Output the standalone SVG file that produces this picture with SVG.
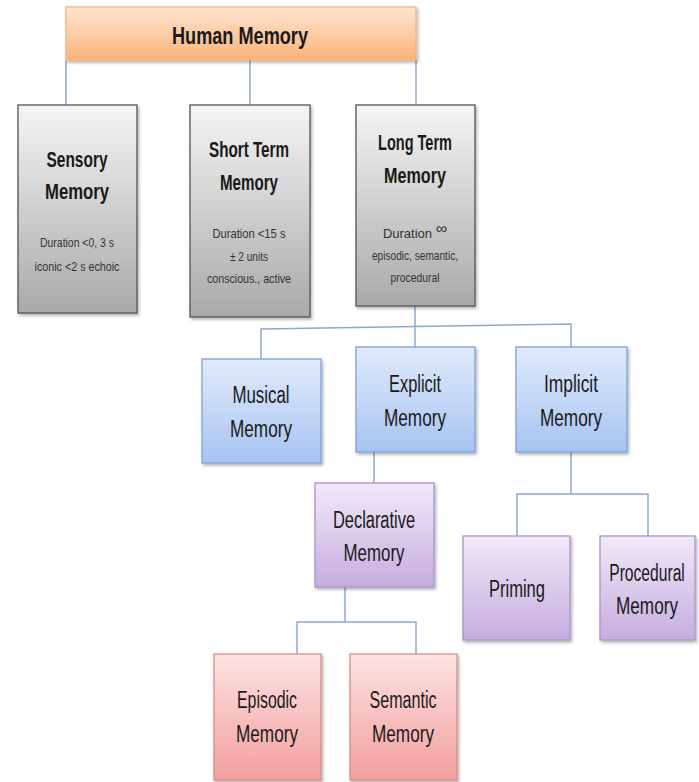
<svg xmlns="http://www.w3.org/2000/svg" width="699" height="782" viewBox="0 0 699 782">
<style>
text{font-family:"Liberation Sans",Arial,sans-serif;fill:#1a1a1a;text-anchor:middle}
.t{font-size:22px;font-weight:bold}
.h{font-size:24px;font-weight:bold}
.s{font-size:13px;fill:#333}
.r{font-size:23px}
.c{fill:none;stroke:#8ea9cf;stroke-width:1.5}
.box{stroke-width:1.3}
.o{fill:url(#go);stroke:#f5b47c}
.g{fill:url(#gg);stroke:#555}
.b{fill:url(#gb);stroke:#7ea2d6}
.p{fill:url(#gp);stroke:#a993cf}
.rd{fill:url(#gr);stroke:#d98c8c}
</style>
<defs>
<linearGradient id="go" x1="0" y1="0" x2="0" y2="1"><stop offset="0" stop-color="#fee6d2"/><stop offset="1" stop-color="#fab37a"/></linearGradient>
<linearGradient id="gg" x1="0" y1="0" x2="0" y2="1"><stop offset="0" stop-color="#f5f5f5"/><stop offset="1" stop-color="#a9a9a9"/></linearGradient>
<linearGradient id="gb" x1="0" y1="0" x2="0" y2="1"><stop offset="0" stop-color="#e0ebfc"/><stop offset="1" stop-color="#a7c3f1"/></linearGradient>
<linearGradient id="gp" x1="0" y1="0" x2="0" y2="1"><stop offset="0" stop-color="#f1e9f8"/><stop offset="1" stop-color="#c6addf"/></linearGradient>
<linearGradient id="gr" x1="0" y1="0" x2="0" y2="1"><stop offset="0" stop-color="#fde3e3"/><stop offset="1" stop-color="#f29e9e"/></linearGradient>
<filter id="sh" x="-10%" y="-10%" width="130%" height="130%"><feDropShadow dx="1.5" dy="2" stdDeviation="1.5" flood-color="#000" flood-opacity="0.3"/></filter>
</defs>
<rect width="699" height="782" fill="#fff"/>
<g id="connectors">
<path class="c" d="M66,60V105M250,60V105M416,60V105"/>
<path class="c" d="M415,306V327M261,359V329L571,324V347M415,327V347"/>
<path class="c" d="M374,452V483"/>
<path class="c" d="M571,452V494M517,536V494H648V536"/>
<path class="c" d="M345,587V622M297,654V622H416V654"/>
</g>
<g id="human-memory"><rect class="box o" x="66" y="7" width="350" height="53" filter="url(#sh)"/><text class="h" x="240" y="44" textLength="136" lengthAdjust="spacingAndGlyphs">Human Memory</text></g>
<g id="sensory-memory"><rect class="box g" x="18" y="105" width="119" height="208" filter="url(#sh)"/><text class="t" x="77" y="167" textLength="61" lengthAdjust="spacingAndGlyphs">Sensory</text><text class="t" x="77" y="199" textLength="64" lengthAdjust="spacingAndGlyphs">Memory</text><text class="s" x="77" y="247" textLength="74" lengthAdjust="spacingAndGlyphs">Duration &lt;0, 3 s</text><text class="s" x="77" y="271" textLength="85" lengthAdjust="spacingAndGlyphs">iconic &lt;2 s  echoic</text></g>
<g id="short-term-memory"><rect class="box g" x="190" y="105" width="120" height="212" filter="url(#sh)"/><text class="t" x="249" y="157" textLength="80" lengthAdjust="spacingAndGlyphs">Short Term</text><text class="t" x="249" y="190" textLength="58" lengthAdjust="spacingAndGlyphs">Memory</text><text class="s" x="249" y="238" textLength="73" lengthAdjust="spacingAndGlyphs">Duration &lt;15 s</text><text class="s" x="249" y="261" textLength="38" lengthAdjust="spacingAndGlyphs">± 2 units</text><text class="s" x="249" y="283" textLength="84" lengthAdjust="spacingAndGlyphs">conscious., active</text></g>
<g id="long-term-memory"><rect class="box g" x="356" y="105" width="119" height="201" filter="url(#sh)"/><text class="t" x="415" y="150" textLength="74" lengthAdjust="spacingAndGlyphs">Long Term</text><text class="t" x="415" y="183" textLength="62" lengthAdjust="spacingAndGlyphs">Memory</text><text class="s" x="415" y="238">Duration <tspan font-size="16" dy="-4">∞</tspan></text><text class="s" x="415" y="260" textLength="86" lengthAdjust="spacingAndGlyphs">episodic, semantic,</text><text class="s" x="415" y="282" textLength="49" lengthAdjust="spacingAndGlyphs">procedural</text></g>
<g id="musical-memory"><rect class="box b" x="202" y="359" width="119" height="104" filter="url(#sh)"/><text class="r" x="261" y="403" textLength="57" lengthAdjust="spacingAndGlyphs">Musical</text><text class="r" x="261" y="437" textLength="62" lengthAdjust="spacingAndGlyphs">Memory</text></g>
<g id="explicit-memory"><rect class="box b" x="356" y="347" width="119" height="105" filter="url(#sh)"/><text class="r" x="415" y="392" textLength="52" lengthAdjust="spacingAndGlyphs">Explicit</text><text class="r" x="415" y="426" textLength="62" lengthAdjust="spacingAndGlyphs">Memory</text></g>
<g id="implicit-memory"><rect class="box b" x="516" y="347" width="111" height="105" filter="url(#sh)"/><text class="r" x="571" y="392" textLength="54" lengthAdjust="spacingAndGlyphs">Implicit</text><text class="r" x="571" y="426" textLength="62" lengthAdjust="spacingAndGlyphs">Memory</text></g>
<g id="declarative-memory"><rect class="box p" x="315" y="483" width="119" height="104" filter="url(#sh)"/><text class="r" x="374" y="528" textLength="82" lengthAdjust="spacingAndGlyphs">Declarative</text><text class="r" x="374" y="561" textLength="61" lengthAdjust="spacingAndGlyphs">Memory</text></g>
<g id="priming"><rect class="box p" x="463" y="536" width="107" height="104" filter="url(#sh)"/><text class="r" x="517" y="597" textLength="56" lengthAdjust="spacingAndGlyphs">Priming</text></g>
<g id="procedural-memory"><rect class="box p" x="600" y="536" width="95" height="104" filter="url(#sh)"/><text class="r" transform="translate(647 581) scale(0.68 1)" x="0" y="0">Procedural</text><text class="r" x="647" y="614" textLength="62" lengthAdjust="spacingAndGlyphs">Memory</text></g>
<g id="episodic-memory"><rect class="box rd" x="214" y="654" width="107" height="126" filter="url(#sh)"/><text class="r" x="267" y="708" textLength="60" lengthAdjust="spacingAndGlyphs">Episodic</text><text class="r" x="267" y="742" textLength="62" lengthAdjust="spacingAndGlyphs">Memory</text></g>
<g id="semantic-memory"><rect class="box rd" x="350" y="654" width="107" height="126" filter="url(#sh)"/><text class="r" x="403" y="708" textLength="67" lengthAdjust="spacingAndGlyphs">Semantic</text><text class="r" x="403" y="742" textLength="62" lengthAdjust="spacingAndGlyphs">Memory</text></g>
</svg>
